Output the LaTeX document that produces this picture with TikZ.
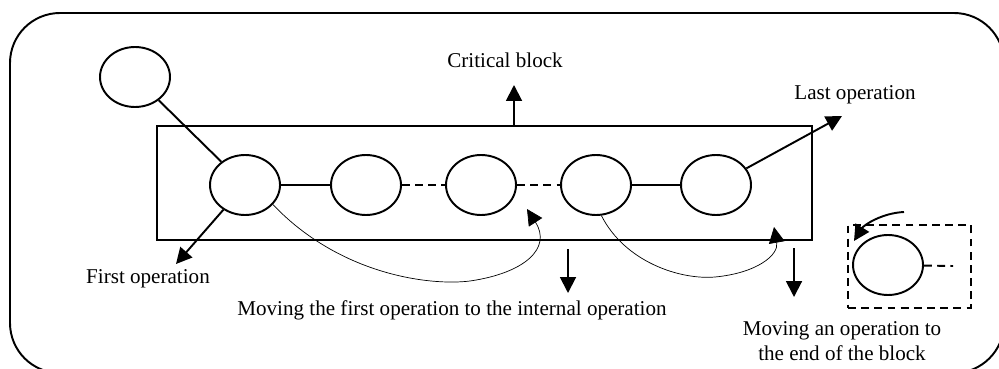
\documentclass[tikz,border=0pt]{standalone}
\usepackage{fontspec}
\setmainfont{Liberation Serif}
\usetikzlibrary{arrows.meta,shapes.geometric}
\begin{document}
\begin{tikzpicture}[x=0.02cm,y=-0.02cm,
  every node/.style={font=\fontsize{12}{14}\selectfont},
  op/.style={draw,ellipse,line width=1.1pt,minimum width=1.4cm,minimum height=1.2cm,inner sep=0pt},
  heavy/.style={line width=1.1pt},
  dashline/.style={line width=1.1pt,dash pattern=on 4.5pt off 3pt},
  hairline/.style={line width=0.4pt},
  arrowtip/.style={-{Triangle[length=9pt,width=9pt]}},
  lbl/.style={inner sep=0pt,align=center}]
\useasboundingbox (0,0) rectangle (999,368);
% outer frame
\draw[heavy,rounded corners=1cm] (10,13) rectangle (1004,373);
% critical block
\node[draw,line width=1.1pt,minimum width=13.1cm,minimum height=2.28cm,inner sep=0pt] (block) at (484.5,183) {};
% operations
\node[op] (e0) at (135,77) {};
\node[op] (e1) at (245,185) {};
\node[op] (e2) at (366,185) {};
\node[op] (e3) at (481,185) {};
\node[op] (e4) at (596,185) {};
\node[op] (e5) at (716,185) {};
\draw[heavy] (e0) -- (e1);
\draw[heavy] (e1) -- (e2);
\draw[dashline] (e2) -- (e3);
\draw[dashline] (e3) -- (e4);
\draw[heavy] (e4) -- (e5);
% labels
\node[lbl] (lcrit) at (505,60) {Critical block};
\node[lbl] (llast) at (855,95) {Last operation};
\node[lbl] (lfirst) at (148,279) {First operation};
\node[lbl] (lmove) at (452,310) {Moving the first operation to the internal operation};
\node[lbl,font=\fontsize{12}{14.5}\selectfont] (lend) at (842,341) {Moving an operation to\\the end of the block};
% pointers
\coordinate (cb) at (514,126);
\coordinate (cbt) at (514,85);
\draw[heavy,arrowtip] (cb) -- (cbt);
\coordinate (lot) at (842,116);
\draw[heavy,arrowtip] (e5) -- (lot);
\coordinate (fot) at (176,264);
\draw[heavy,arrowtip] (e1) -- (fot);
\coordinate (d1a) at (568,249);
\coordinate (d1b) at (568,293);
\draw[heavy,arrowtip] (d1a) -- (d1b);
\coordinate (d2a) at (794,248);
\coordinate (d2b) at (794,297);
\draw[heavy,arrowtip] (d2a) -- (d2b);
% moves
\coordinate (m1t) at (527,209);
\draw[hairline,arrowtip] (e1.-35) .. controls (340,275) and (430,286) .. (470,281)
  .. controls (525,273) and (552,248) .. (m1t);
\coordinate (m2t) at (774,227);
\draw[hairline,arrowtip] (e4.-80) .. controls (625,262) and (680,280) .. (715,277)
  .. controls (757,273) and (779,255) .. (m2t);
% detached operation
\node[draw,line width=1.1pt,dash pattern=on 4.5pt off 3pt,minimum width=2.46cm,minimum height=1.66cm,inner sep=0pt] (tail) at (909.5,266.5) {};
\node[op] (e6) at (888,265) {};
\coordinate (e6r) at (953,266);
\draw[dashline] (e6) -- (e6r);
\coordinate (m3s) at (904,212);
\coordinate (m3t) at (854,241);
\draw[heavy,arrowtip] (m3s) .. controls (882,213) and (864,225) .. (m3t);
\end{tikzpicture}
\end{document}
